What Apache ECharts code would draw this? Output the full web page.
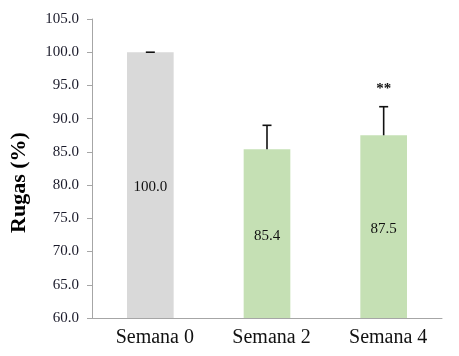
<!DOCTYPE html>
<html>
<head>
<meta charset="utf-8">
<script src="https://cdn.jsdelivr.net/npm/echarts@6/dist/echarts.min.js"></script>
<style>
html,body{margin:0;padding:0;background:#fff;}
#c{width:459px;height:356px;}
</style>
</head>
<body>
<div id="c"></div>
<script>
var categories = ['Semana 0', 'Semana 2', 'Semana 4'];
var values = [100.0, 85.4, 87.5];
var errors = [0.0, 3.6, 4.3];
var significance = ['', '', '**'];
var barColors = ['#d9d9d9', '#c5e0b4', '#c5e0b4'];
var yTicks = { min: 60, max: 105, interval: 5 };

var chart = echarts.init(document.getElementById('c'), null, { renderer: 'canvas' });
var serif = '"Liberation Serif", "DejaVu Serif", serif';

var errData = values.map(function (v, i) { return [i, v, v + errors[i], significance[i]]; });

chart.setOption({
  animation: false,
  grid: { left: 91, right: 17, top: 19, bottom: 38, containLabel: false },
  xAxis: {
    type: 'category',
    data: categories,
    axisLine: { show: true, lineStyle: { color: '#a6a6a6', width: 1 } },
    axisTick: { show: false },
    axisLabel: { color: '#111', fontFamily: serif, fontSize: 20, margin: 10, padding: [0, 0, 0, 9] }
  },
  yAxis: {
    type: 'value',
    min: yTicks.min, max: yTicks.max, interval: yTicks.interval,
    name: 'Rugas (%)',
    nameLocation: 'middle',
    nameGap: 62,
    nameRotate: 90,
    nameTextStyle: { fontFamily: serif, fontSize: 22, fontWeight: 'bold', color: '#000', padding: [0, 28, 0, 0] },
    axisLine: { show: true, lineStyle: { color: '#a6a6a6', width: 1 } },
    axisTick: { show: true, inside: false, length: 5, lineStyle: { color: '#a6a6a6' } },
    splitLine: { show: false },
    axisLabel: {
      color: '#1a1a2a', fontFamily: serif, fontSize: 15, margin: 13,
      formatter: function (v) { return v.toFixed(1); }
    }
  },
  series: [
    {
      type: 'bar',
      barWidth: '40%',
      data: values.map(function (v, i) { return { value: v, itemStyle: { color: barColors[i] } }; }),
      label: {
        show: true, position: 'inside', offset: [0, 2], color: '#111', fontFamily: serif, fontSize: 15,
        formatter: function (p) { return p.value.toFixed(1); }
      },
      z: 2
    },
    {
      type: 'custom',
      data: errData,
      z: 5,
      renderItem: function (params, api) {
        var x = api.value(0);
        var base = api.coord([x, api.value(1)]);
        var top = api.coord([x, api.value(2)]);
        var half = 4.5;
        var children = [
          { type: 'line', shape: { x1: base[0], y1: base[1], x2: top[0], y2: top[1] }, style: { stroke: '#111', lineWidth: 1.6 } },
          { type: 'line', shape: { x1: top[0] - half, y1: top[1], x2: top[0] + half, y2: top[1] }, style: { stroke: '#111', lineWidth: 1.6 } }
        ];
        var sig = significance[params.dataIndex];
        if (sig) {
          children.push({
            type: 'text',
            style: { text: sig, x: top[0], y: top[1] - 18, align: 'center', verticalAlign: 'middle', font: 'bold 15px ' + serif, fill: '#111' }
          });
        }
        return { type: 'group', children: children };
      }
    }
  ]
});
</script>
</body>
</html>
